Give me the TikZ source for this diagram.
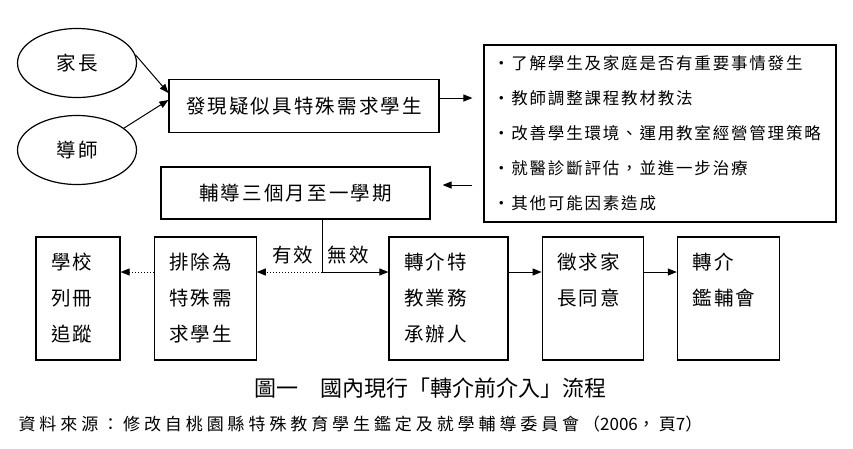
\documentclass[tikz,border=0pt]{standalone}
\usepackage{fontspec}
\usetikzlibrary{arrows.meta,positioning,shapes.geometric}
\setmainfont{Noto Sans CJK TC}
\newfontfamily\kai[LetterSpace=11]{Noto Sans CJK TC}
\newfontfamily\srcfont[LetterSpace=23]{Noto Sans CJK TC}
\newcommand{\boxfont}{\kai\fontsize{19.5pt}{36pt}\selectfont}
\newcommand{\listfont}{\kai\fontsize{16.5pt}{35pt}\selectfont}

\begin{document}
\begin{tikzpicture}[x=1pt, y=-1pt, line width=1.2pt,
  arr/.style={-{Triangle[length=9pt,width=7pt]}, line width=1pt},
  dotarr/.style={arr, dotted},
  oval/.style={draw, ellipse, minimum width=119pt, minimum height=69pt, inner sep=0pt, font=\boxfont},
  wide/.style={draw, minimum height=52pt, inner sep=0pt, font=\boxfont},
  tall/.style={draw, minimum height=123pt, inner xsep=15pt, inner ysep=0pt, align=left, text width=#1, font=\boxfont},
  lbl/.style={font=\boxfont, inner sep=0pt}]
  \useasboundingbox (0,0) rectangle (853,448);

  % top part
  \node[oval] (parent) at (77,63) {家長};
  \node[oval] (teacher) at (77,150) {導師};
  \node[wide, minimum width=270pt, minimum height=53pt] (find) at (304,106) {發現疑似具特殊需求學生};
  \node[wide, minimum width=269pt] (guide) at (295.5,193) {輔導三個月至一學期};
  \node[draw, minimum width=352pt, minimum height=177pt, inner xsep=8pt,
    text width=334pt, align=left, font=\listfont] (list) at (660,133.5)
    {・了解學生及家庭是否有重要事情發生\\
     ・教師調整課程教材教法\\
     ・改善學生環境、運用教室經營管理策略\\
     ・就醫診斷評估，並進一步治療\\
     ・其他可能因素造成};

  \draw[arr] (parent.8) -- ([yshift=13pt]find.west);
  \draw[arr] (teacher.25) -- ([yshift=6pt]find.west);
  \draw[arr, shorten >=11pt] ([yshift=8pt]find.east) -- ([yshift=8pt]find.east -| list.west);
  \draw[arr, shorten <=11pt, shorten >=12pt] ([yshift=8pt]guide.east -| list.west) -- ([yshift=8pt]guide.east);

  % bottom row
  \node[tall=54pt] (school) at (78,298.5) {學校\\列冊\\追蹤};
  \node[tall=72pt, right=33pt of school] (exclude) {排除為\\特殊需\\求學生};
  \node[tall=89pt] (refer) at (448.5,298.5) {轉介特\\教業務\\承辦人};
  \node[tall=71pt, right=33pt of refer] (consent) {徵求家\\長同意\\\phantom{長}};
  \node[tall=72pt, right=33pt of consent] (committee) {轉介\\鑑輔會\\\phantom{長}};

  \coordinate (split) at (322,272);
  \draw[line width=1pt] (split |- guide.south) -- (split);
  \draw[dotarr] (split) -- (exclude.east |- split);
  \draw[arr] (split) -- (refer.west |- split);
  \draw[dotarr] (exclude.west |- split) -- (school.east |- split);
  \draw[arr] (refer.east |- split) -- (consent.west |- split);
  \draw[arr] (consent.east |- split) -- (committee.west |- split);
  \node[lbl, anchor=south east] (valid) at ([xshift=-8pt,yshift=7pt]split) {有效};
  \node[lbl, anchor=south west] (invalid) at ([xshift=5pt,yshift=7pt]split) {無效};

  % caption and source
  \node[font=\fontsize{22pt}{24pt}\selectfont] (caption) at (430,388) {圖一　國內現行「轉介前介入」流程};
  \node[anchor=west, inner sep=0pt, font=\srcfont\fontsize{17pt}{20pt}\selectfont] (source) at (18,424)
    {資料來源：修改自桃園縣特殊教育學生鑑定及就學輔導委員會（{\normalfont 2006}，頁{\normalfont 7}）};
\end{tikzpicture}
\end{document}
